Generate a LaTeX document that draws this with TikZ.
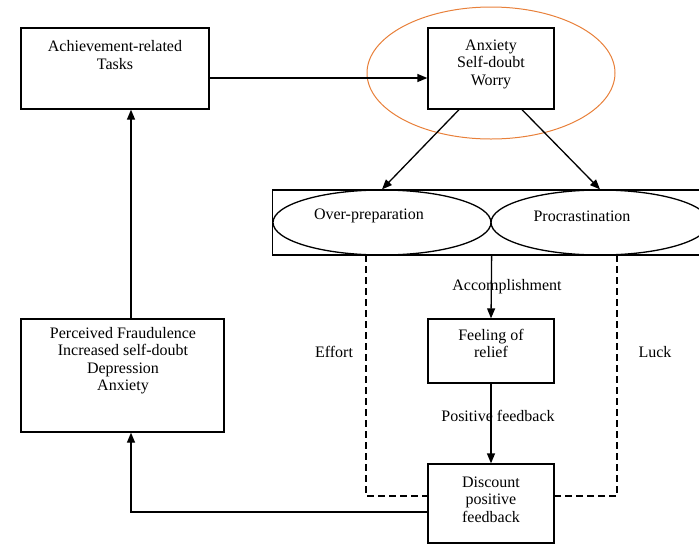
\documentclass[tikz,border=0pt]{standalone}
\usepackage{fontspec}
\setmainfont{Liberation Serif}
\usetikzlibrary{arrows.meta,shapes.geometric,calc}
\definecolor{ringorange}{RGB}{232,128,58}
\begin{document}
\begin{tikzpicture}[x=1pt,y=-1pt,
  box/.style={draw,line width=1.3pt,rectangle,inner sep=0pt},
  oval/.style={draw,line width=1.3pt,ellipse,inner sep=0pt},
  txt/.style={font=\fontsize{16}{17.5}\selectfont,align=center,inner sep=0pt},
  arr/.style={line width=1.3pt,-{Triangle[length=10pt,width=8pt]}},
  dsh/.style={line width=1.2pt,dash pattern=on 7pt off 4pt}]
\useasboundingbox (0,0) rectangle (699,544);
% boxes
\node[box,minimum width=188pt,minimum height=81pt] (ach) at (115,68.5) {};
\node[box,minimum width=126pt,minimum height=81pt] (anx) at (491,68.5) {};
\node[box,minimum width=203pt,minimum height=113pt] (perc) at (122.5,375.5) {};
\node[box,minimum width=126pt,minimum height=64pt] (feel) at (491,351) {};
\node[box,minimum width=126pt,minimum height=79pt] (disc) at (491,503.5) {};
\node[box,minimum width=443pt,minimum height=65pt] (grp) at (494,222.5) {};
\node[oval,minimum width=218pt,minimum height=65pt] (e1) at (382,222.5) {};
\node[oval,minimum width=218pt,minimum height=65pt] (e2) at (600,222.5) {};
\node[draw=ringorange,line width=1pt,ellipse,minimum width=248pt,minimum height=132pt] (ring) at (491,73) {};
% texts
\node[txt] (tach) at (115,55) {Achievement-related\\Tasks};
\node[txt] (tanx) at (491,64) {Anxiety\\Self-doubt\\Worry};
\node[txt] (tperc) at (123,360.5) {Perceived Fraudulence\\Increased self-doubt\\Depression\\Anxiety};
\node[txt] (tfeel) at (491,343.5) {Feeling of\\relief};
\node[txt] (tdisc) at (491,499.5) {Discount\\positive\\feedback};
\node[txt] (tover) at (369,216) {Over-preparation};
\node[txt] (tproc) at (582,216) {Procrastination};
\node[txt] (tacc) at (507,287) {Accomplishment};
\node[txt] (tpos) at (498,416) {Positive feedback};
\node[txt] (teff) at (334,352) {Effort};
\node[txt] (tluck) at (655,352) {Luck};
% connectors
\draw[arr] ([yshift=-9.5pt]ach.east) -- ([yshift=-9.5pt]anx.west);
\draw[arr] ([xshift=-32pt]anx.south) -- (e1.north);
\draw[arr] ([xshift=31pt]anx.south) -- (e2.north);
\draw[arr] (e1.east |- grp.south) -- (feel.north);
\draw[arr] (feel.south) -- (disc.north);
\draw[arr] ([yshift=-8.5pt]disc.west) -| ([xshift=8.5pt]perc.south);
\draw[arr] ([xshift=8.5pt]perc.north) -- ([xshift=8.5pt]perc.north |- ach.south);
\coordinate (dl) at (366,255);
\coordinate (dr) at (617,255);
\draw[dsh] (dl) |- ([yshift=7.5pt]disc.west);
\draw[dsh] (dr) |- ([yshift=7.5pt]disc.east);
\end{tikzpicture}
\end{document}
